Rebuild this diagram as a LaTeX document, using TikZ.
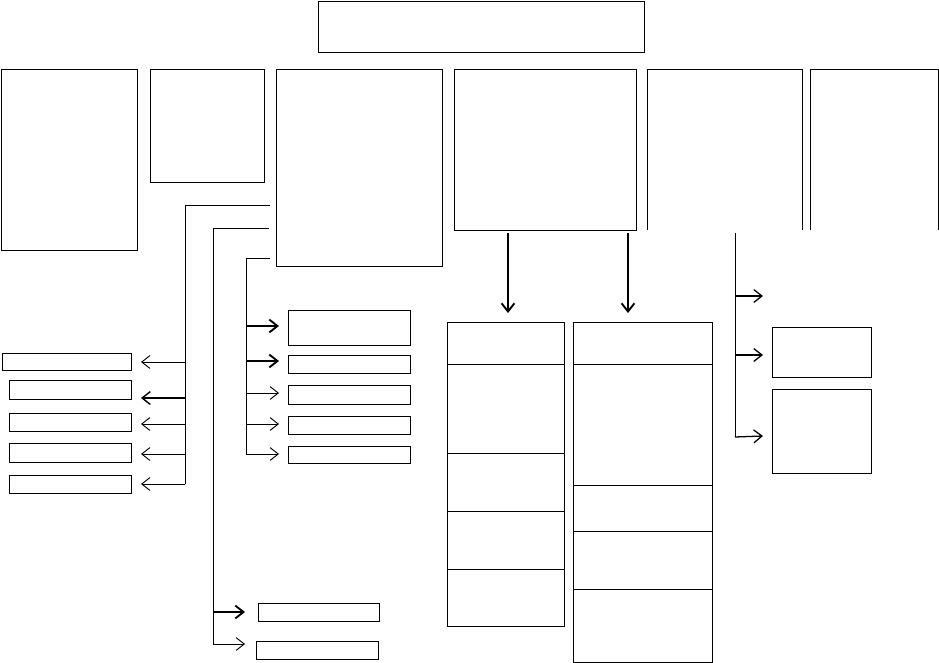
\documentclass[tikz,border=0pt]{standalone}
\usepackage{tikz}
\usetikzlibrary{arrows.meta,fit}
\begin{document}
\begin{tikzpicture}[x=0.03cm,y=-0.03cm,
	main_box/.style={draw,line width=0.8pt,inner sep=0pt,outer sep=0pt},
	open_box/.style={inner sep=0pt,outer sep=0pt},
	wire/.style={line width=0.8pt},
	arr/.style={line width=0.8pt,-{Straight Barb[length=7pt,width=11pt]}},
	bold_arr/.style={line width=1.6pt,-{Straight Barb[length=7pt,width=11pt]}}]
		\useasboundingbox (0,0) rectangle (939,663);

		% top row
		\node[main_box,fit={(318,1) (644,52)}] (top) {};
		\node[main_box,fit={(1,69) (137,250)}] (a) {};
		\node[main_box,fit={(150,69) (264,182)}] (b) {};
		\node[main_box,fit={(276,69) (442,266)}] (c) {};
		\node[main_box,fit={(454,69) (636,230)}] (d) {};
		\node[open_box,fit={(647,69) (802,230)}] (e) {};
		\node[open_box,fit={(810,69) (938,230)}] (f) {};
		\draw[wire] (e.south west) |- (e.north east) -- (e.south east);
		\draw[wire] (f.south west) |- (f.north east) -- (f.south east);

		% left boxes
		\node[main_box,fit={(2,353) (131,370)}] (l1) {};
		\node[main_box,fit={(9,380) (131,399)}] (l2) {};
		\node[main_box,fit={(9,413) (131,431)}] (l3) {};
		\node[main_box,fit={(9,443) (131,462)}] (l4) {};
		\node[main_box,fit={(9,475) (131,493)}] (l5) {};

		% middle boxes
		\node[main_box,fit={(288,310) (410,345)}] (m1) {};
		\node[main_box,fit={(288,355) (410,373)}] (m2) {};
		\node[main_box,fit={(288,385) (410,404)}] (m3) {};
		\node[main_box,fit={(288,416) (410,434)}] (m4) {};
		\node[main_box,fit={(288,446) (410,463)}] (m5) {};
		\node[main_box,fit={(258,603) (379,621)}] (n1) {};
		\node[main_box,fit={(256,641) (378,659)}] (n2) {};

		% two stacks under d
		\node[main_box,fit={(447,322) (564,364)}] (p1) {};
		\node[main_box,fit={(447,364) (564,453)}] (p2) {};
		\node[main_box,fit={(447,453) (564,511)}] (p3) {};
		\node[main_box,fit={(447,511) (564,569)}] (p4) {};
		\node[main_box,fit={(447,569) (564,626)}] (p5) {};
		\node[main_box,fit={(573,322) (712,364)}] (q1) {};
		\node[main_box,fit={(573,364) (712,485)}] (q2) {};
		\node[main_box,fit={(573,485) (712,531)}] (q3) {};
		\node[main_box,fit={(573,531) (712,589)}] (q4) {};
		\node[main_box,fit={(573,589) (712,662)}] (q5) {};

		% right boxes
		\node[main_box,fit={(772,327) (871,377)}] (r1) {};
		\node[main_box,fit={(772,389) (871,473)}] (r2) {};

		% buses from c
		\coordinate (c1) at (270,205);
		\coordinate (c2) at (269,228);
		\coordinate (c3) at (270,258);
		\coordinate (bus1) at (185,484);
		\coordinate (bus2) at (213,644);
		\coordinate (bus3) at (246,454);
		\draw[wire] (c1) -| (bus1);
		\draw[wire] (c2) -| (bus2);
		\draw[wire] (c3) -| (bus3);

		% arrows to the left boxes
		\coordinate (lt1) at (141,362);
		\coordinate (lt2) at (141,398);
		\coordinate (lt3) at (141,424);
		\coordinate (lt4) at (141,454);
		\coordinate (lt5) at (141,484);
		\draw[arr] (bus1 |- lt1) -- (lt1);
		\draw[arr,line width=1.2pt] (bus1 |- lt2) -- (lt2);
		\draw[arr] (bus1 |- lt3) -- (lt3);
		\draw[arr] (bus1 |- lt4) -- (lt4);
		\draw[arr] (bus1) -- (lt5);

		% arrows to the middle boxes
		\coordinate (mt1) at (279,326);
		\coordinate (mt2) at (279,361);
		\coordinate (mt3) at (279,393);
		\coordinate (mt4) at (279,424);
		\coordinate (mt5) at (279,454);
		\draw[bold_arr] (bus3 |- mt1) -- (mt1);
		\draw[bold_arr] (bus3 |- mt2) -- (mt2);
		\draw[arr] (bus3 |- mt3) -- (mt3);
		\draw[arr] (bus3 |- mt4) -- (mt4);
		\draw[arr] (bus3) -- (mt5);
		\coordinate (nt1) at (245,612);
		\coordinate (nt2) at (245,644);
		\draw[bold_arr] (bus2 |- nt1) -- (nt1);
		\draw[arr] (bus2) -- (nt2);

		% arrows down from d
		\coordinate (ds1) at (508,233);
		\coordinate (ds2) at (628,233);
		\coordinate (dt1) at (508,313);
		\coordinate (dt2) at (628,313);
		\draw[bold_arr] (ds1) -- (dt1);
		\draw[bold_arr] (ds2) -- (dt2);

		% right bus
		\coordinate (rs) at (735,233);
		\coordinate (bus4) at (735,437);
		\draw[wire] (rs) -- (bus4);
		\coordinate (rt1) at (763,296);
		\coordinate (rt2) at (763,355);
		\coordinate (rt3) at (763,436);
		\draw[arr,line width=1.1pt] (rs |- rt1) -- (rt1);
		\draw[arr,line width=1.1pt] (rs |- rt2) -- (rt2);
		\draw[arr,line width=1.1pt] (bus4) -- (rt3);
		\end{tikzpicture}
\end{document}
